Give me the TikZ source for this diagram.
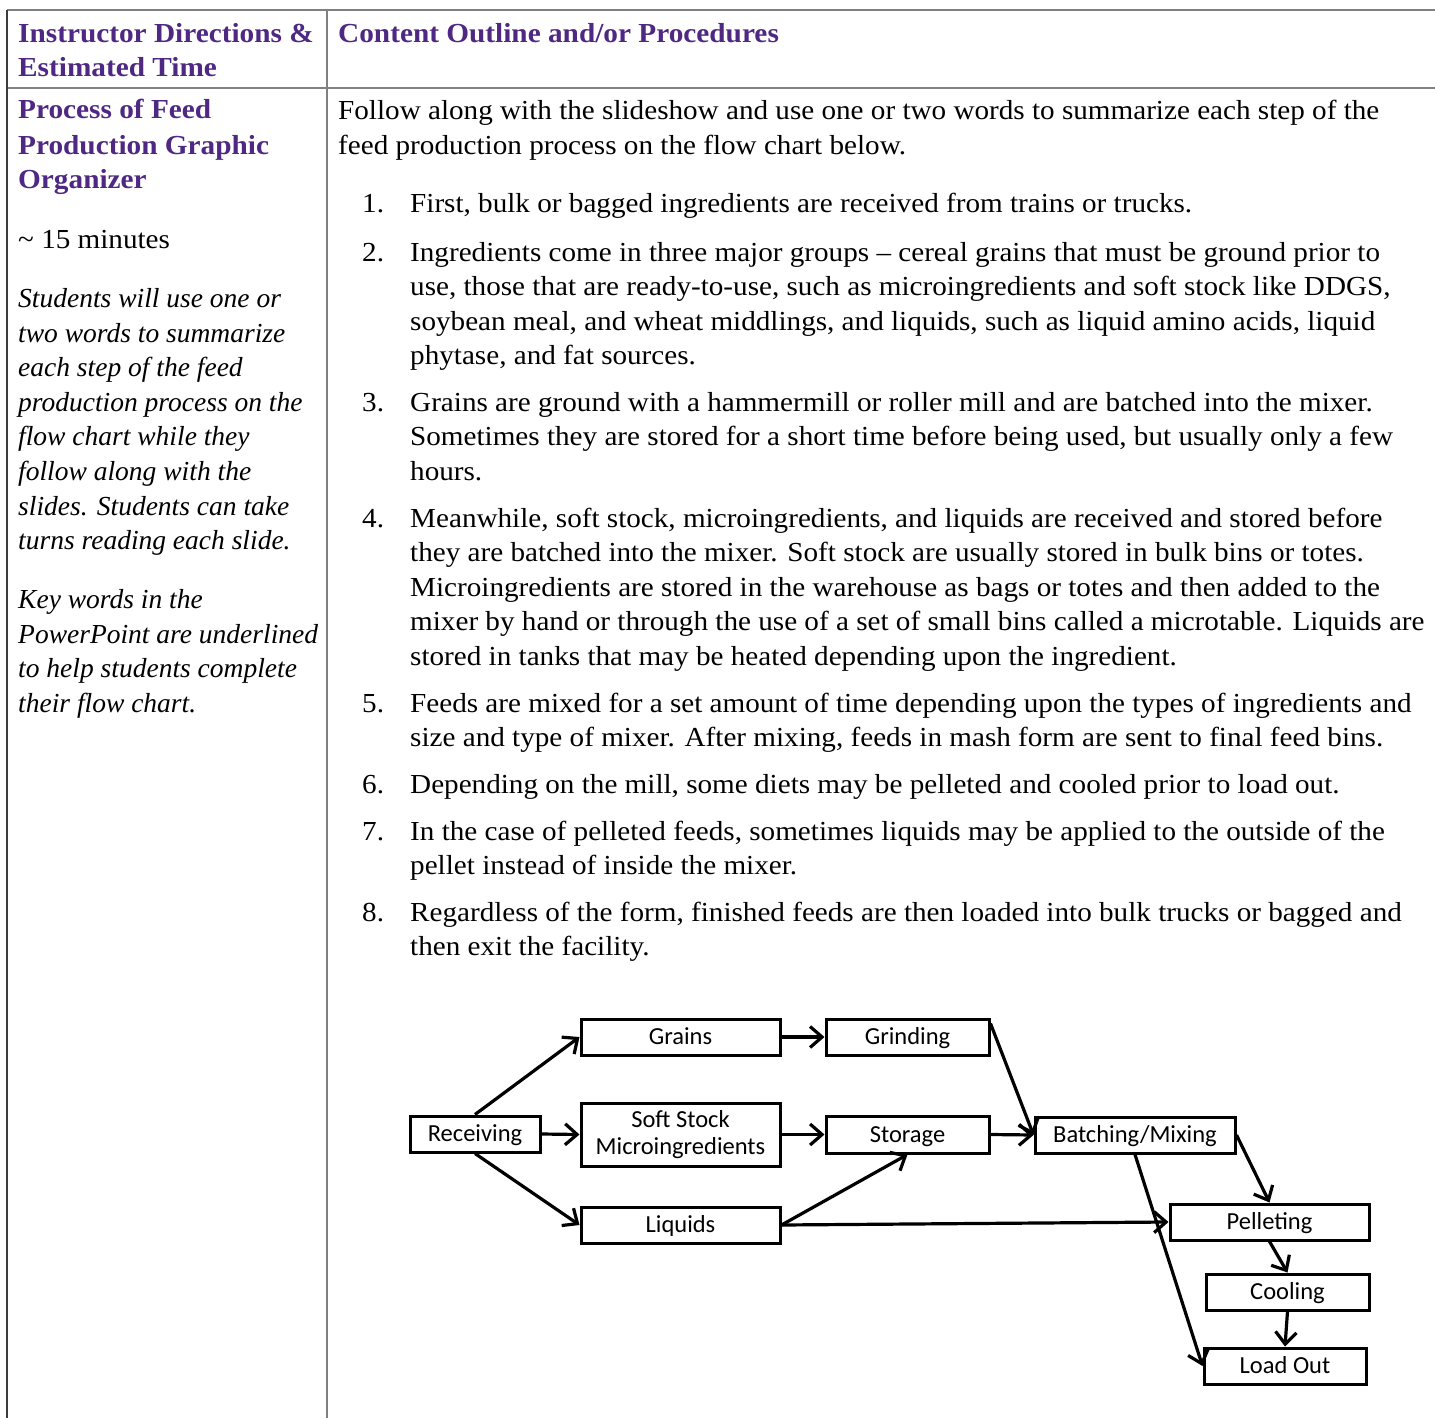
\documentclass[tikz,border=0pt]{standalone}
\usepackage{fontspec}
\setmainfont{Liberation Serif}[UprightFeatures={FakeStretch=1.06}, BoldFeatures={FakeStretch=1.065}]
\newfontfamily\boxfont{Carlito}
\usetikzlibrary{arrows.meta}
\definecolor{hdpurple}{RGB}{78,40,130}
\definecolor{rulegray}{RGB}{128,128,128}
\definecolor{ruledark}{RGB}{60,60,60}
\newcommand{\bodysize}{\fontsize{27.5}{34.6}\selectfont}
\tikzset{
  body/.style={anchor=base west, inner sep=0pt, font=\bodysize},
  itbody/.style={anchor=base west, inner sep=0pt, font=\bodysize\itshape},
  hd/.style={anchor=base west, inner sep=0pt, font=\bodysize\bfseries, text=hdpurple},
  num/.style={anchor=base west, inner sep=0pt, font=\bodysize},
  fbox/.style={draw=black, line width=3pt, inner sep=0pt, font=\boxfont\fontsize{24.5}{27}\selectfont, align=center},
  onebox/.style={fbox, text height=20pt, text depth=4.5pt},
  farrow/.style={line width=3.2pt, -{Straight Barb[length=12pt,width=21pt,line width=3.2pt]}},
}
\begin{document}
\begin{tikzpicture}[x=1pt,y=-1pt]
\useasboundingbox (0,0) rectangle (1435,1418);
% table rules
\draw[rulegray, line width=2pt] (7,10) -- (1435,10);
\draw[rulegray, line width=2pt] (7,88) -- (1435,88);
\draw[rulegray, line width=2.5pt] (327,10) -- (327,1418);
\draw[ruledark, line width=2pt] (7,10) -- (7,1418);

% headers
\node[hd] (h1) at (18,42.7) {Instructor Directions \&};
\node[hd] (h2) at (18,77) {Estimated Time};
\node[hd] (h3) at (338,42.7) {Content Outline and/or Procedures};

% left column
\node[hd] (l1) at (18,119) {Process of Feed};
\node[hd] (l2) at (18,155) {Production Graphic};
\node[hd] (l3) at (18,189) {Organizer};
\node[body] (l4) at (18,248) {\textasciitilde\ 15 minutes};
\node[itbody] (i1) at (18,307) {Students will use one or};
\node[itbody] (i2) at (18,342) {two words to summarize};
\node[itbody] (i3) at (18,376) {each step of the feed};
\node[itbody] (i4) at (18,411) {production process on the};
\node[itbody] (i5) at (18,445) {flow chart while they};
\node[itbody] (i6) at (18,480) {follow along with the};
\node[itbody] (i7) at (18,515) {slides. Students can take};
\node[itbody] (i8) at (18,549) {turns reading each slide.};
\node[itbody] (k1) at (18,608) {Key words in the};
\node[itbody] (k2) at (18,643) {PowerPoint are underlined};
\node[itbody] (k3) at (18,677) {to help students complete};
\node[itbody] (k4) at (18,712) {their flow chart.};

% right column intro
\node[body] (f1) at (338,120) {Follow along with the slideshow and use one or two words to summarize each step of the};
\node[body] (f2) at (338,155) {feed production process on the flow chart below.};

% numbered list
\node[num] (n1) at (362,212) {1.};
\node[body] (t1a) at (410,212) {First, bulk or bagged ingredients are received from trains or trucks.};
\node[num] (n2) at (362,261) {2.};
\node[body] (t2a) at (410,261) {Ingredients come in three major groups -- cereal grains that must be ground prior to};
\node[body] (t2b) at (410,295.5) {use, those that are ready-to-use, such as microingredients and soft stock like DDGS,};
\node[body] (t2c) at (410,330) {soybean meal, and wheat middlings, and liquids, such as liquid amino acids, liquid};
\node[body] (t2d) at (410,364.5) {phytase, and fat sources.};
\node[num] (n3) at (362,411) {3.};
\node[body] (t3a) at (410,411) {Grains are ground with a hammermill or roller mill and are batched into the mixer.};
\node[body] (t3b) at (410,445.5) {Sometimes they are stored for a short time before being used, but usually only a few};
\node[body] (t3c) at (410,480) {hours.};
\node[num] (n4) at (362,527) {4.};
\node[body] (t4a) at (410,527) {Meanwhile, soft stock, microingredients, and liquids are received and stored before};
\node[body] (t4b) at (410,561.5) {they are batched into the mixer. Soft stock are usually stored in bulk bins or totes.};
\node[body] (t4c) at (410,596) {Microingredients are stored in the warehouse as bags or totes and then added to the};
\node[body] (t4d) at (410,630.5) {mixer by hand or through the use of a set of small bins called a microtable. Liquids are};
\node[body] (t4e) at (410,665) {stored in tanks that may be heated depending upon the ingredient.};
\node[num] (n5) at (362,712) {5.};
\node[body] (t5a) at (410,712) {Feeds are mixed for a set amount of time depending upon the types of ingredients and};
\node[body] (t5b) at (410,746.5) {size and type of mixer. After mixing, feeds in mash form are sent to final feed bins.};
\node[num] (n6) at (362,793) {6.};
\node[body] (t6a) at (410,793) {Depending on the mill, some diets may be pelleted and cooled prior to load out.};
\node[num] (n7) at (362,840) {7.};
\node[body] (t7a) at (410,840) {In the case of pelleted feeds, sometimes liquids may be applied to the outside of the};
\node[body] (t7b) at (410,874.5) {pellet instead of inside the mixer.};
\node[num] (n8) at (362,921) {8.};
\node[body] (t8a) at (410,921) {Regardless of the form, finished feeds are then loaded into bulk trucks or bagged and};
\node[body] (t8b) at (410,955.5) {then exit the facility.};

% flow chart
\node[onebox, minimum width=130pt, minimum height=36pt] (rec) at (475,1134) {Receiving};
\node[onebox, minimum width=199pt, minimum height=36pt] (grains) at (680.5,1037) {Grains};
\node[onebox, minimum width=163pt, minimum height=36pt] (grind) at (907.5,1037) {Grinding};
\node[fbox, minimum width=199pt, minimum height=63pt] (soft) at (680.5,1134.5) {Soft Stock\\Microingredients};
\node[onebox, minimum width=163pt, minimum height=37pt] (stor) at (907.5,1134.5) {Storage};
\node[onebox, minimum width=199pt, minimum height=36pt] (liq) at (680.5,1225) {Liquids};
\node[onebox, minimum width=200pt, minimum height=36pt] (batch) at (1135,1135) {Batching/Mixing};
\node[onebox, minimum width=199pt, minimum height=36pt] (pell) at (1269.5,1222) {Pelleting};
\node[onebox, minimum width=163pt, minimum height=36pt] (cool) at (1287.5,1292) {Cooling};
\node[onebox, minimum width=162pt, minimum height=36pt] (load) at (1285,1366) {Load Out};

\draw[farrow] (rec.north) -- (grains.west);
\draw[farrow] (rec.east) -- (soft.west);
\draw[farrow] (rec.south) -- (liq.west);
\draw[farrow] (grains.east) -- (grind.west);
\draw[farrow] (soft.east) -- (stor.west);
\draw[farrow] (liq.east) -- (stor.south);
\draw[farrow] (liq.east) -- (pell.west);
\draw[farrow] ([yshift=-6pt]grind.north east) -- (batch.west);
\draw[farrow] (stor.east) -- (batch.west);
\draw[farrow] (batch.east) -- (pell.north);
\draw[farrow] (batch.south) -- (load.west);
\draw[farrow] (pell.south) -- (cool.north);
\draw[farrow] (cool.south) -- (load.north);
\end{tikzpicture}
\end{document}
